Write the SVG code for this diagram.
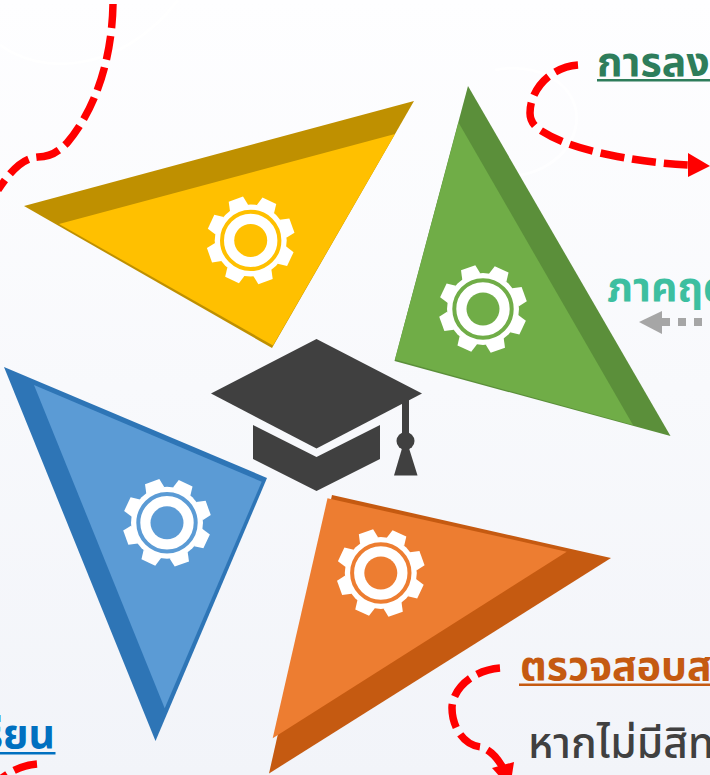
<svg xmlns="http://www.w3.org/2000/svg" width="710" height="775" viewBox="0 0 710 775">
<style>
.flow{fill:none;stroke:#f00;stroke-width:7.5;stroke-dasharray:24 8}
.head{fill:#f00}
.swirl{fill:none;stroke:#fff;stroke-width:3;opacity:.7}
.t{font-family:"Noto Sans Thai","Noto Sans","DejaVu Sans","Liberation Sans",sans-serif;font-size:41px}
.b{font-weight:700}
.white{fill:#fff}
</style>
<defs>
<linearGradient id="bg" x1="0" y1="0" x2="0" y2="1"><stop offset="0" stop-color="#fefeff"/><stop offset="1" stop-color="#f2f4f9"/></linearGradient>
<path id="tooth" d="M-9.6 -34.4L-7.6 -43.8L7.6 -43.8L9.6 -34.4Z"/>
<g id="gear">
<g class="white">
<circle r="36"/>
<use href="#tooth" transform="rotate(25.2)"/>
<use href="#tooth" transform="rotate(70.2)"/>
<use href="#tooth" transform="rotate(115.2)"/>
<use href="#tooth" transform="rotate(160.2)"/>
<use href="#tooth" transform="rotate(205.2)"/>
<use href="#tooth" transform="rotate(250.2)"/>
<use href="#tooth" transform="rotate(295.2)"/>
<use href="#tooth" transform="rotate(340.2)"/>
</g>
<circle r="28.7" fill="none" stroke="currentColor" stroke-width="4"/>
<circle r="16.5" fill="currentColor"/>
</g>
</defs>
<rect id="background" width="710" height="775" fill="url(#bg)"/>
<g id="decor">
<path class="swirl" d="M0 45C40 75 120 75 178 0"/>
<path class="swirl" d="M495 70C550 60 585 95 575 130C565 165 525 180 500 175"/>
</g>
<g id="node-yellow" color="#ffc000">
<polygon points="24,206 414,101 272,348" fill="#bf9000"/>
<polygon points="59,224 395,134 273,345.5" fill="#ffc000"/>
<use href="#gear" x="250.7" y="240.4"/>
</g>
<g id="node-green" color="#70ad47">
<polygon points="468,86 670.5,436 394.5,361" fill="#5b8f3a"/>
<polygon points="458.5,122.5 633,425 395,359.5" fill="#70ad47"/>
<use href="#gear" x="483" y="309"/>
</g>
<g id="node-blue" color="#5b9bd5">
<polygon points="4,367 267,478 155.5,741" fill="#2e75b6"/>
<polygon points="34,385 261.7,481.7 164.7,708.3" fill="#5b9bd5"/>
<use href="#gear" x="167" y="522.8"/>
</g>
<g id="node-orange" color="#ed7d31">
<polygon points="332,495 611,558 269,773.5" fill="#c55a11"/>
<polygon points="327.5,498.3 566.7,551.7 272.7,738.3" fill="#ed7d31"/>
<use href="#gear" x="380.8" y="573"/>
</g>
<g id="node-cap" fill="#404040">
<polygon points="316.5,339 422,393.5 316.5,448.5 211,393.5"/>
<polygon points="253,425 316.5,457 380,425 380,459 316.5,491 253,459"/>
<rect x="402" y="399" width="7" height="42"/>
<circle cx="405.5" cy="441" r="9"/>
<polygon points="403,445 408,445 417.5,475.5 394,475.5"/>
</g>
<g id="connectors">
<path class="flow" d="M113 4C112 60 95 110 67 143C55 155 47 157 38 157C22 158 10 172 -2 190"/>
<path class="flow" d="M578 65C550 67 530 90 530 113C530 120 533 125 540 130C560 143 585 150 610 155C640 161 665 164 690 165"/>
<polygon class="head" points="710,166 688,153 688,177"/>
<path class="flow" d="M500 668C472 670 452 690 452 708C452 725 462 745 481 747C490 750 497 757 503 768"/>
<polygon class="head" points="510,788 492,768 514,762"/>
<path class="flow" d="M37 764C25 765 14 769 2 778"/>
<path d="M662 322H712" fill="none" stroke="#a6a6a6" stroke-width="8" stroke-dasharray="8 8"/>
<polygon points="639,322 662,311 662,334" fill="#a6a6a6"/>
</g>
<g id="labels">
<text class="t b" x="597" y="76" fill="#2e7d5b">การลง</text>
<rect x="597" y="79" width="113" height="2.5" fill="#2e7d5b"/>
<text class="t b" x="607" y="301" fill="#3dbfa0">ภาคฤด</text>
<text class="t b" x="520" y="680" fill="#c55a11">ตรวจสอบส</text>
<rect x="519" y="683.5" width="191" height="2.5" fill="#c55a11"/>
<text class="t" x="528" y="758" font-weight="500" style="font-size:42.5px" fill="#404040">หากไม่มีสิท</text>
<text class="t b" x="55" y="748" text-anchor="end" fill="#0070c0">เรียน</text>
<rect x="0" y="752" width="55.5" height="2.5" fill="#0070c0"/>
</g>
</svg>
